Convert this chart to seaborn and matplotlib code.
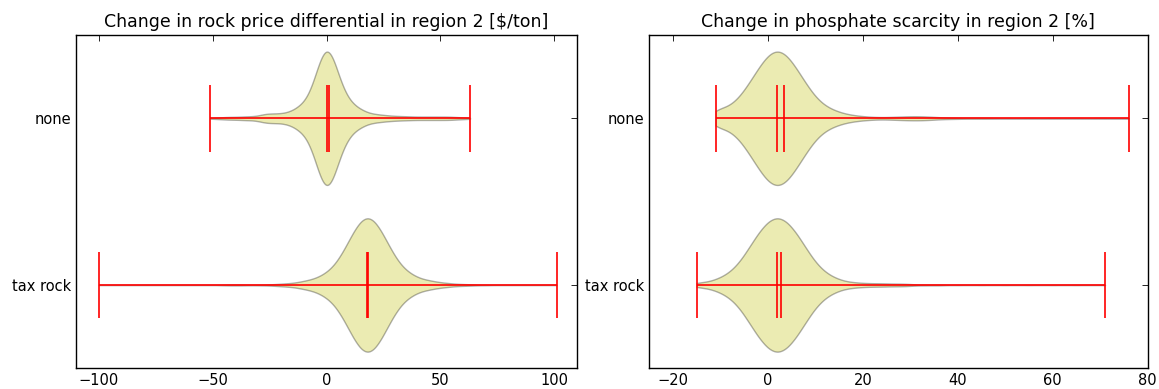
import numpy as np
import pandas as pd
import seaborn as sns
import matplotlib
matplotlib.use("Agg")
import matplotlib.pyplot as plt

#%% Data: sample values and how often each one occurs

groups = ["none", "tax rock"]

# change in rock price differential in region 2 [$/ton]
rock_none_vals = [-51, -48, -45, -42, -39, -36, -33, -30, -27, -24, -21, -18, -15, -12, -9, -6, -3,
                  0, 3, 6, 9, 12, 15, 18, 21, 24, 27, 30, 33, 36, 39, 42, 45, 48, 51, 54, 57, 60, 63]
rock_none_counts = [2, 3, 5, 6, 6, 8, 8, 11, 19, 20, 20, 23, 33, 51, 78, 141, 240,
                    300, 252, 156, 90, 56, 38, 24, 18, 15, 12, 10, 9, 8, 7, 7, 7, 7, 7, 7, 5, 4, 2]

rock_tax_vals = [-100, -93, -86, -79, -72, -65, -58, -52, -46, -42, -38, -34, -30, -27, -24, -21, -18,
                 -15, -12, -9, -6, -3, 0, 3, 6, 9, 12, 15, 18, 21, 24, 27, 30, 33, 36, 39, 42, 45,
                 48, 51, 54, 57, 60, 63, 66, 70, 75, 81, 87, 94, 101]
rock_tax_counts = [1, 1, 1, 1, 1, 1, 1, 1, 2, 3, 3, 2, 2, 2, 3, 5, 7,
                   9, 14, 20, 27, 39, 57, 84, 126, 180, 237, 282, 300, 282, 237, 180, 126, 84, 57, 39, 27, 21,
                   15, 11, 8, 5, 4, 3, 2, 2, 1, 1, 1, 1, 1]

# change in phosphate scarcity in region 2 [%]
scar_none_vals = [-11, -10, -8, -6, -4, -2, 0, 2, 4, 6, 8, 10, 12, 14, 16, 18, 20, 22, 24, 26, 28,
                  30, 32, 34, 36, 38, 40, 43, 46, 50, 55, 60, 65, 70, 76]
scar_none_counts = [16, 23, 36, 60, 100, 144, 184, 200, 184, 144, 100, 60, 36, 23, 14, 9, 6, 4, 3, 4, 5,
                    6, 6, 5, 3, 2, 2, 2, 2, 1, 1, 1, 1, 1, 1]

scar_tax_vals = [-15, -14, -12, -10, -8, -6, -4, -2, 0, 2, 4, 6, 8, 10, 12, 14, 16, 18, 20, 22, 24,
                 26, 28, 30, 33, 36, 40, 45, 50, 55, 60, 65, 71]
scar_tax_counts = [4, 6, 12, 22, 38, 66, 108, 152, 186, 200, 186, 152, 108, 66, 38, 22, 12, 8, 6, 5, 5,
                   4, 4, 3, 2, 2, 1, 1, 1, 1, 1, 1, 1]


def make_frame(vals_counts):
    parts = []
    for name, (vals, counts) in zip(groups, vals_counts):
        parts.append(pd.DataFrame({"policy": name, "value": np.repeat(vals, counts)}))
    return pd.concat(parts, ignore_index=True)


rock = make_frame([(rock_none_vals, rock_none_counts), (rock_tax_vals, rock_tax_counts)])
scarcity = make_frame([(scar_none_vals, scar_none_counts), (scar_tax_vals, scar_tax_counts)])

#%% Plot

sns.set_style("white", {"axes.edgecolor": "black", "text.color": "black",
                        "xtick.color": "black", "ytick.color": "black"})
plt.rcParams["font.family"] = ["DejaVu Sans"]


def violin_panel(ax, df, bw, title):
    sns.violinplot(data=df, x="value", y="policy", order=groups, orient="h", cut=0, inner=None,
                   density_norm="width", width=0.8, bw_method=bw, gridsize=400,
                   color="y", saturation=1, linecolor="k", linewidth=1, ax=ax)
    for coll in ax.collections:
        coll.set_facecolor("y")
        coll.set_alpha(0.3)

    # extrema, mean and median bars like matplotlib's violinplot
    stats = df.groupby("policy")["value"].agg(["min", "max", "mean", "median"]).reindex(groups)
    pos = np.arange(len(groups))
    ax.hlines(pos, stats["min"], stats["max"], color="r", lw=1.2)
    for col in ["min", "max", "mean", "median"]:
        ax.vlines(stats[col], pos - 0.2, pos + 0.2, color="r", lw=1.2)

    ax.set_title(title, fontsize=12.5, pad=6)
    ax.set_xlabel("")
    ax.set_ylabel("")
    ax.set_ylim(1.5, -0.5)
    ax.tick_params(direction="in", top=True, right=True, length=4, width=0.6, labelsize=10.5)
    for sp in ax.spines.values():
        sp.set_linewidth(1.0)


fig = plt.figure(figsize=(11.59, 3.89), dpi=100)
ax1 = fig.add_axes([0.0656, 0.0532, 0.4323, 0.857])
ax2 = fig.add_axes([0.5600, 0.0532, 0.4303, 0.857])

violin_panel(ax1, rock, 0.15, "Change in rock price differential in region 2 [\\$/ton]")
ax1.set_xlim(-110, 110)
ax1.set_xticks([-100, -50, 0, 50, 100])

violin_panel(ax2, scarcity, 0.18, "Change in phosphate scarcity in region 2 [%]")
ax2.set_xlim(-25, 80)
ax2.set_xticks([-20, 0, 20, 40, 60, 80])

fig.savefig("out.png", dpi=100)
